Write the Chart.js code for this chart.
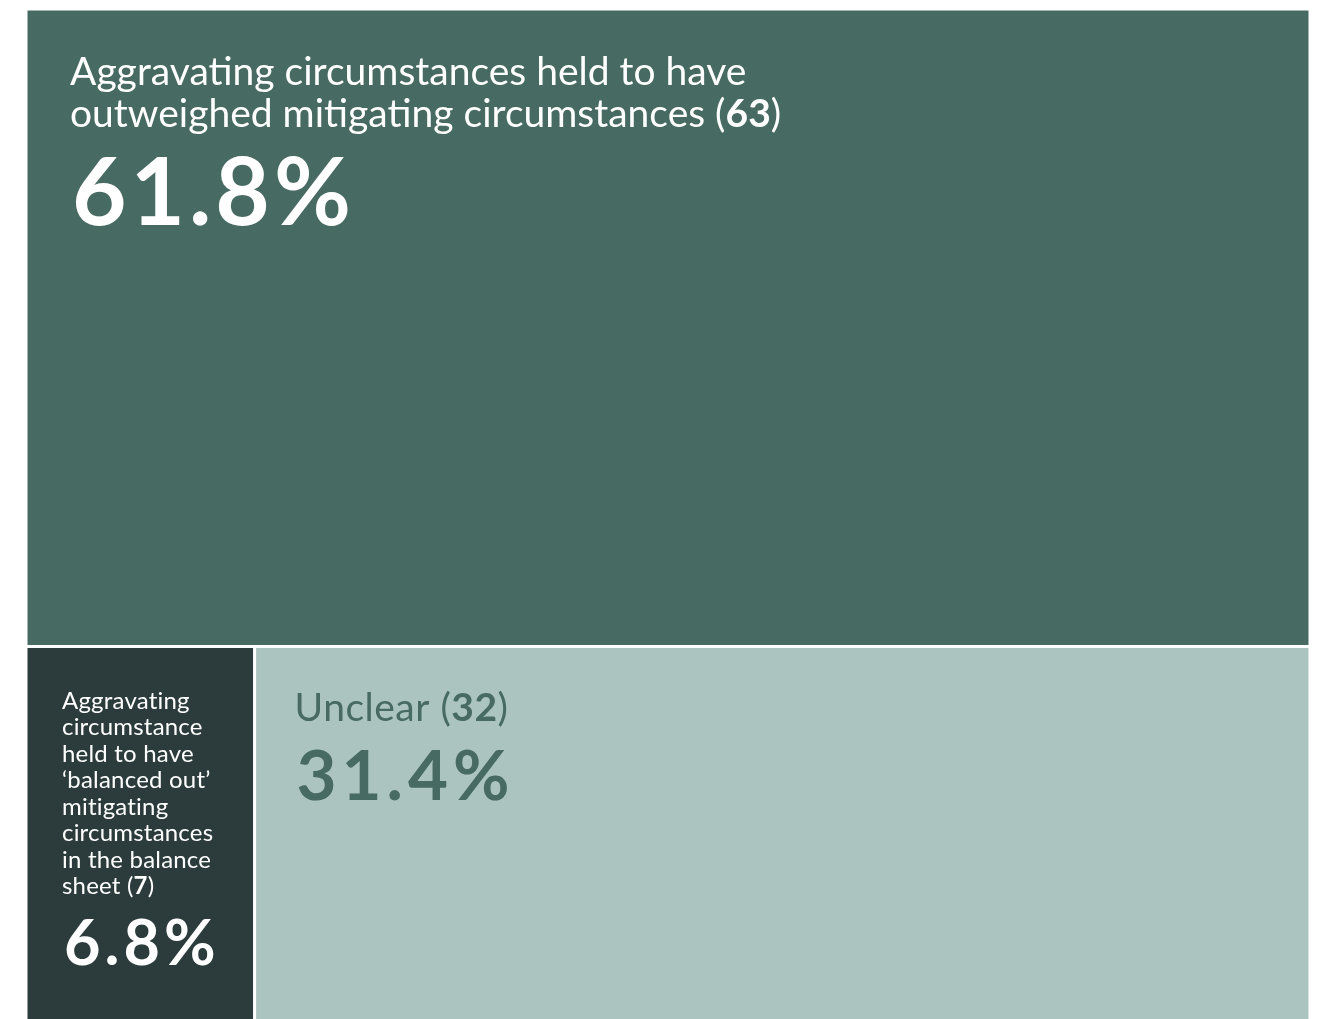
<!DOCTYPE html>
<html>
<head>
<meta charset="utf-8">
<script src="https://cdn.jsdelivr.net/npm/chart.js@4.4.1/dist/chart.umd.min.js"></script>
<style>
  html, body { margin: 0; padding: 0; background: #ffffff; }
  #wrap { width: 1326px; height: 1019px; }
</style>
</head>
<body>
<div id="wrap"><canvas id="treemapChart"></canvas></div>
<script>
// outcome categories, case counts and rounded shares
var categories = [
    "Aggravating circumstances held to have\noutweighed mitigating circumstances",
    "Aggravating\ncircumstance\nheld to have\n\u2018balanced out\u2019\nmitigating\ncircumstances\nin the balance\nsheet",
    "Unclear"
];
var counts = [63, 7, 32];
var shares = [61.8, 6.8, 31.4];

var fills = ["#476a62", "#2c3c3c", "#abc4c0"];
var textColors = ["#ffffff", "#ffffff", "#476a62"];

// label metrics per tile
var labelStyles = [
    { padX: 44, first: 76, lineHeight: 42, size: 39, spacing: 0, pctSize: 94, pctSpacing: 4, pctGap: 98 },
    { padX: 36, first: 62, lineHeight: 26.5, size: 24, spacing: 0.2, pctSize: 63, pctSpacing: 4, pctGap: 71 },
    { padX: 40, first: 74, lineHeight: 38, size: 39, spacing: 0.5, pctSize: 69, pctSpacing: 5, pctGap: 79 }
];

var FONT = "Lato, 'Noto Sans', sans-serif";

// slice layout: first tile spans the full width on top,
// the rest share the bottom row in proportion to their shares
function layout(values) {
    var total = values.reduce(function (a, b) { return a + b; }, 0);
    var rects = [];
    var topH = values[0] / total * 100;
    rects.push({ x0: 0, x1: 100, y0: 100 - topH, y1: 100 });
    var rest = total - values[0];
    var x = 0;
    for (var i = 1; i < values.length; i++) {
        var w = values[i] / rest * 100;
        rects.push({ x0: x, x1: x + w, y0: 0, y1: 100 - topH });
        x += w;
    }
    return rects;
}

var rects = layout(shares);

var datasets = rects.map(function (r, i) {
    return {
        label: categories[i],
        data: [
            { x: r.x0, y: r.y0 },
            { x: r.x1, y: r.y0 },
            { x: r.x1, y: r.y1 },
            { x: r.x0, y: r.y1 },
            { x: r.x0, y: r.y0 }
        ],
        showLine: true,
        fill: "shape",
        backgroundColor: fills[i],
        borderColor: "#ffffff",
        borderWidth: 3,
        pointRadius: 0,
        tension: 0
    };
});

var tileLabels = {
    id: "tileLabels",
    afterDatasetsDraw: function (chart) {
        var ctx = chart.ctx;
        var xs = chart.scales.x;
        var ys = chart.scales.y;
        ctx.save();
        ctx.textBaseline = "alphabetic";
        ctx.textAlign = "left";
        rects.forEach(function (r, i) {
            var st = labelStyles[i];
            var left = xs.getPixelForValue(r.x0) + st.padX;
            var top = ys.getPixelForValue(r.y1);
            var lines = categories[i].split("\n");
            ctx.fillStyle = textColors[i];
            ctx.letterSpacing = st.spacing + "px";
            var y = top + st.first;
            lines.forEach(function (line, k) {
                ctx.font = "400 " + st.size + "px " + FONT;
                if (k < lines.length - 1) {
                    ctx.fillText(line, left, y);
                    y += st.lineHeight;
                    return;
                }
                // last line carries the bold count in brackets
                var head = line + " (";
                ctx.fillText(head, left, y);
                var cx = left + ctx.measureText(head).width;
                ctx.font = "700 " + st.size + "px " + FONT;
                var num = String(counts[i]);
                ctx.fillText(num, cx, y);
                cx += ctx.measureText(num).width;
                ctx.font = "400 " + st.size + "px " + FONT;
                ctx.fillText(")", cx, y);
            });
            ctx.font = "700 " + st.pctSize + "px " + FONT;
            ctx.letterSpacing = st.pctSpacing + "px";
            ctx.fillText(shares[i].toFixed(1) + "%", left + 2, y + st.pctGap);
        });
        ctx.restore();
    }
};

document.addEventListener("DOMContentLoaded", function () {
    var ctx = document.getElementById("treemapChart").getContext("2d");

    var treemap = new Chart(ctx, {
        type: "scatter",
        data: { datasets: datasets },
        options: {
            responsive: true,
            maintainAspectRatio: false,
            animation: false,
            layout: { padding: { left: 26, right: 16, top: 9, bottom: 0 } },
            plugins: {
                legend: { display: false },
                tooltip: { enabled: false }
            },
            scales: {
                x: { type: "linear", display: false, min: 0, max: 100 },
                y: { type: "linear", display: false, min: 2.1, max: 100 }
            }
        },
        plugins: [tileLabels]
    });
});
</script>
</body>
</html>
